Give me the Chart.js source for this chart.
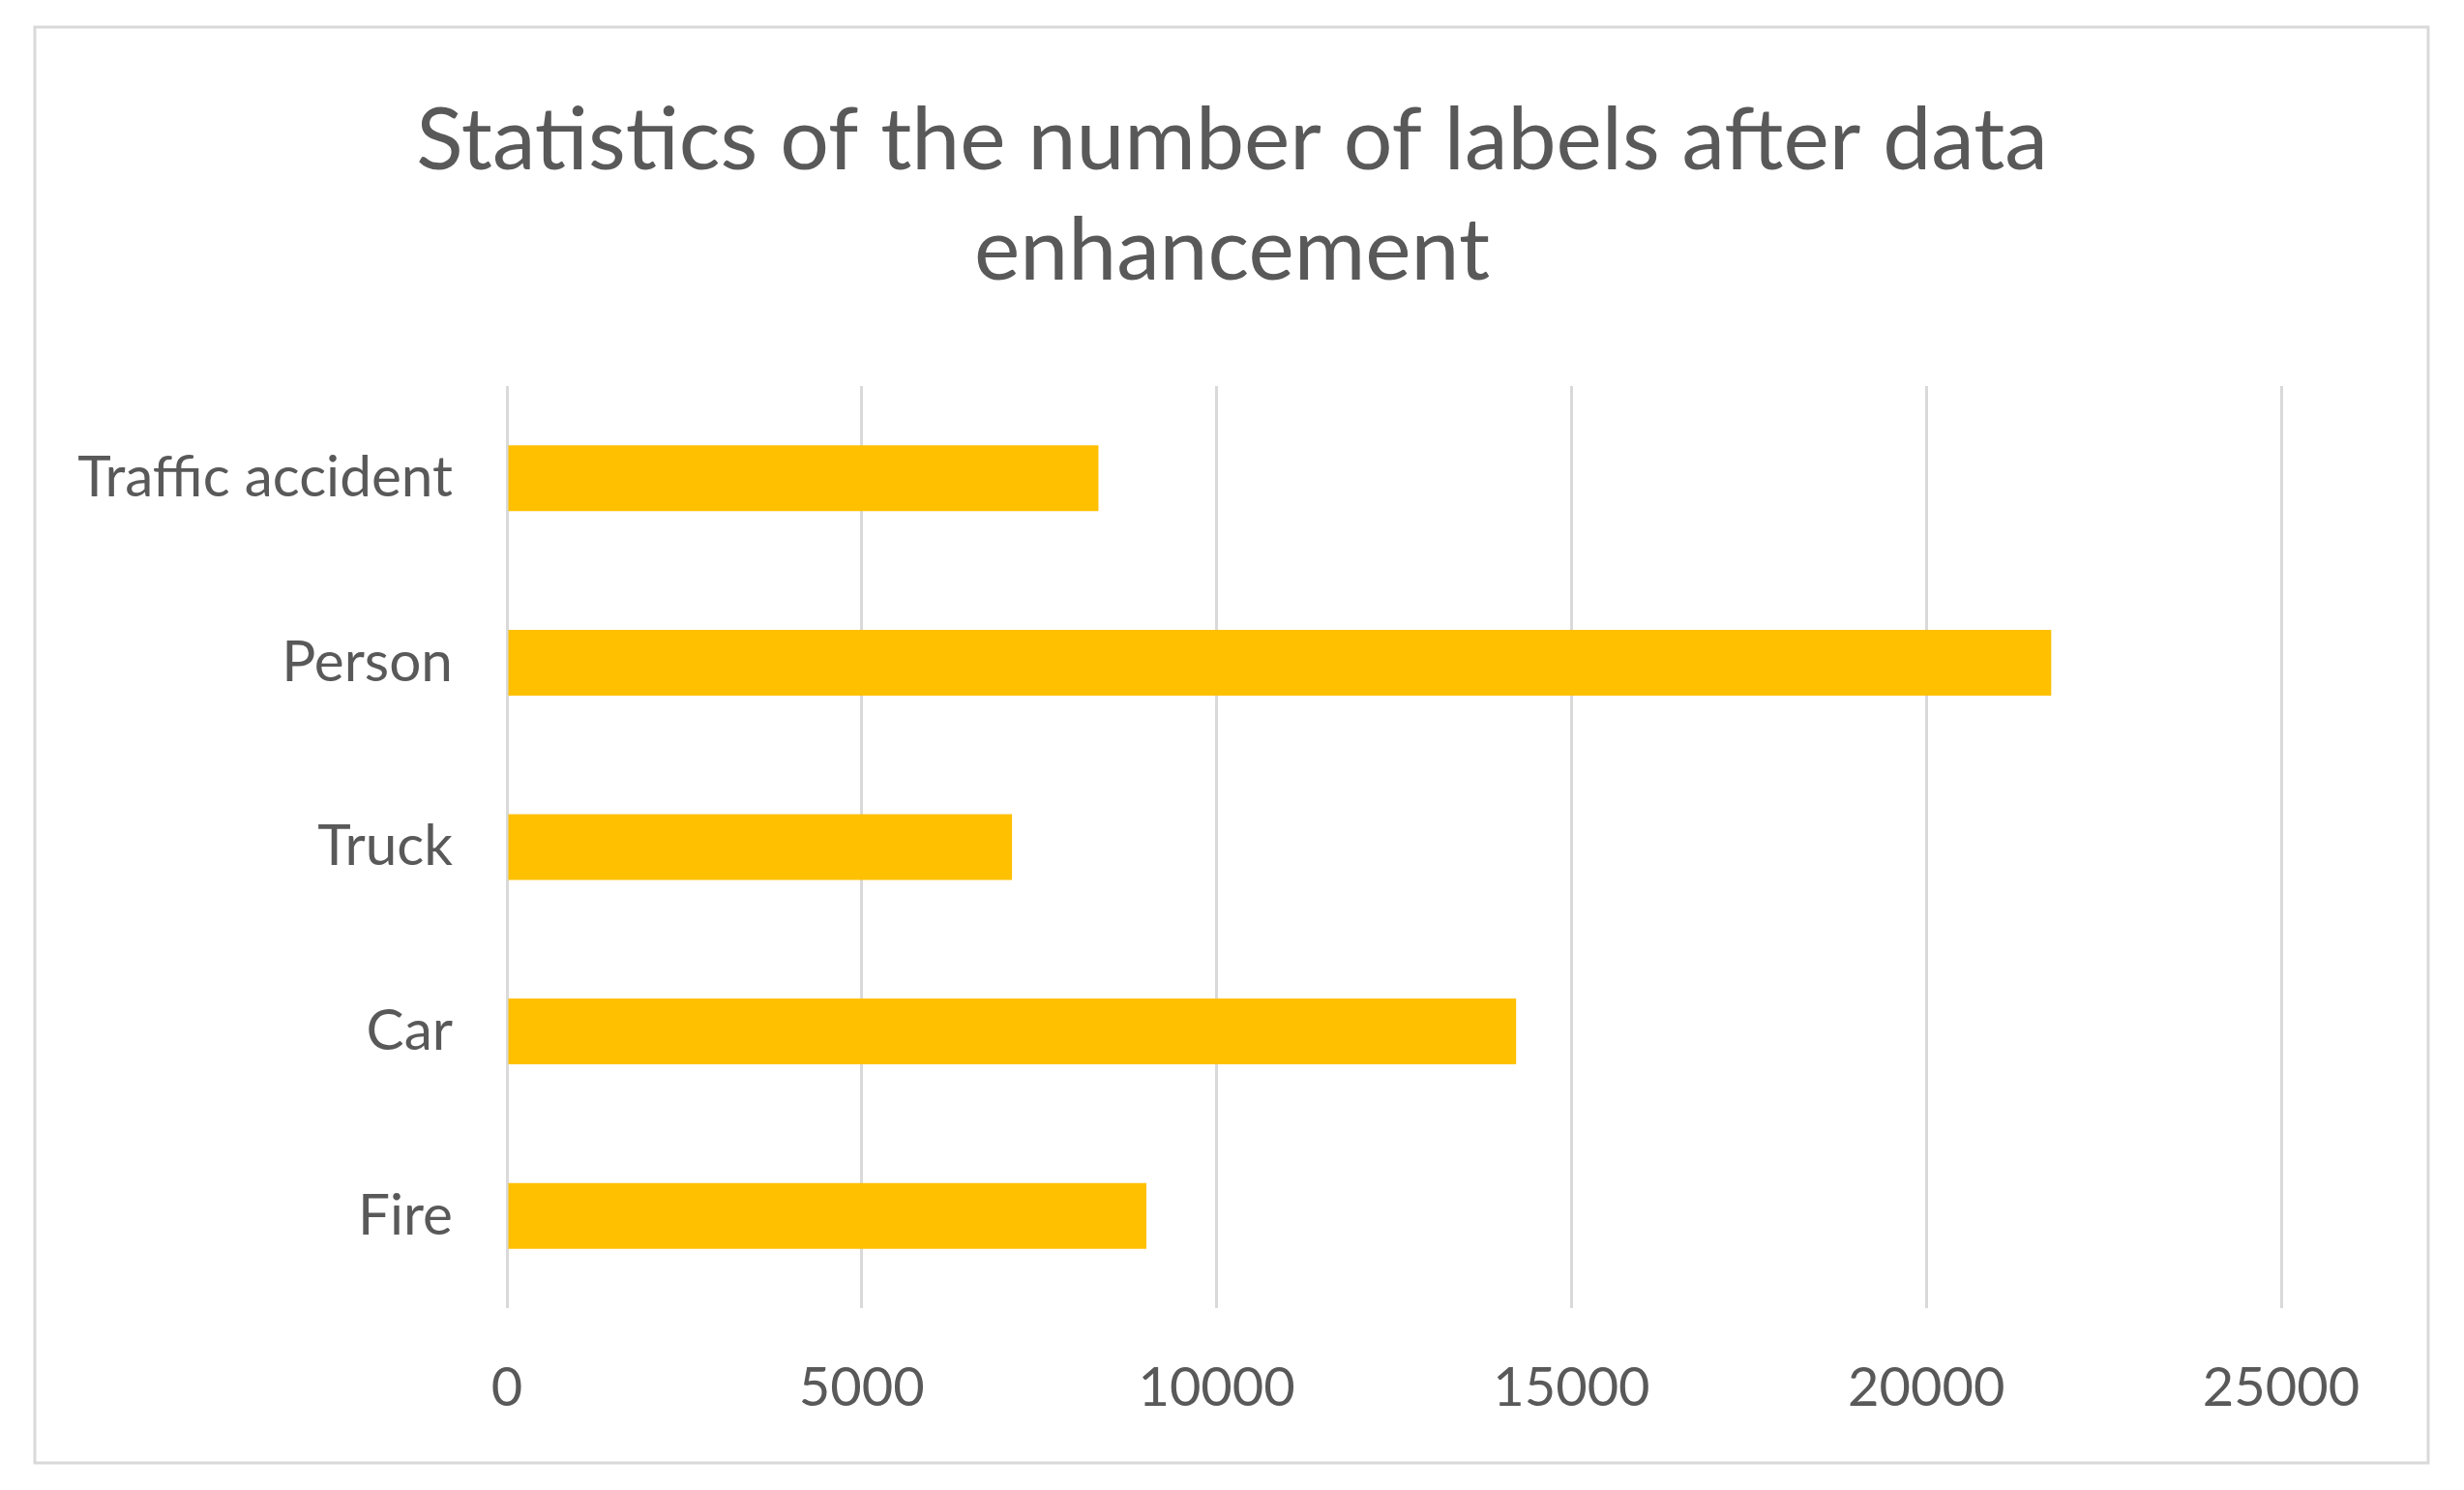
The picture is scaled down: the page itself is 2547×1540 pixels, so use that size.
<!DOCTYPE html>
<html lang="en">
<head>
    <meta charset="UTF-8">
    <title>Statistics of the number of labels after data enhancement</title>
    <script src="https://cdn.jsdelivr.net/npm/chart.js"></script>
    <style>
        html, body {
            margin: 0;
            padding: 0;
            background: #ffffff;
        }
        #wrap {
            width: 2547px;
            height: 1540px;
        }
    </style>
</head>
<body>
    <div id="wrap"><canvas id="labelChart"></canvas></div>

    <script>
        // data
        const titleLines = ["Statistics of the number of labels after data", "enhancement"];
        const categories = ["Traffic accident", "Person", "Truck", "Car", "Fire"];
        const labelCounts = [8335, 21760, 7117, 14220, 9010];
        const tickValues = [0, 5000, 10000, 15000, 20000, 25000];

        const textColor = "#595959";
        const gridColor = "#d9d9d9";
        const fontFamily = "Lato, 'Open Sans', sans-serif";

        // frame + title drawn on the canvas
        const frameAndTitle = {
            id: "frameAndTitle",
            beforeDraw(chart) {
                const c = chart.ctx;
                c.save();
                c.fillStyle = "#ffffff";
                c.fillRect(0, 0, chart.width, chart.height);
                c.strokeStyle = gridColor;
                c.lineWidth = 3;
                c.strokeRect(36, 28, 2474, 1484);
                c.restore();
            },
            afterDraw(chart) {
                const c = chart.ctx;
                c.save();
                c.fillStyle = textColor;
                c.font = "89.5px " + fontFamily;
                c.textAlign = "center";
                c.textBaseline = "alphabetic";
                titleLines.forEach((line, i) => {
                    c.fillText(line, chart.width / 2, 175 + i * 114);
                });
                c.restore();
            }
        };

        const ctx = document.getElementById("labelChart").getContext("2d");

        let chart = new Chart(ctx, {
            type: "bar",
            data: {
                labels: categories,
                datasets: [{
                    label: "Number of labels",
                    data: labelCounts,
                    backgroundColor: "#ffc000",
                    borderWidth: 0,
                    categoryPercentage: 1.0,
                    barPercentage: 0.357
                }]
            },
            options: {
                indexAxis: "y",
                responsive: true,
                maintainAspectRatio: false,
                animation: false,
                layout: {
                    padding: { top: 399, right: 189, bottom: 0, left: 0 }
                },
                plugins: {
                    legend: { display: false },
                    title: { display: false },
                    tooltip: { enabled: false }
                },
                scales: {
                    x: {
                        min: 0,
                        max: 25000,
                        afterBuildTicks(scale) {
                            scale.ticks = tickValues.map(v => ({ value: v }));
                        },
                        afterFit(scale) {
                            scale.height = 1540 - 1352;
                        },
                        grid: {
                            color: gridColor,
                            lineWidth: 3,
                            drawTicks: false
                        },
                        border: { display: false },
                        ticks: {
                            color: textColor,
                            font: { family: fontFamily, size: 56 },
                            padding: 49,
                            callback: v => String(v)
                        }
                    },
                    y: {
                        afterFit(scale) {
                            scale.width = 524;
                        },
                        grid: { display: false },
                        border: { display: false },
                        ticks: {
                            color: textColor,
                            font: { family: fontFamily, size: 58.5 },
                            padding: 48
                        }
                    }
                }
            },
            plugins: [frameAndTitle]
        });
    </script>
</body>
</html>
